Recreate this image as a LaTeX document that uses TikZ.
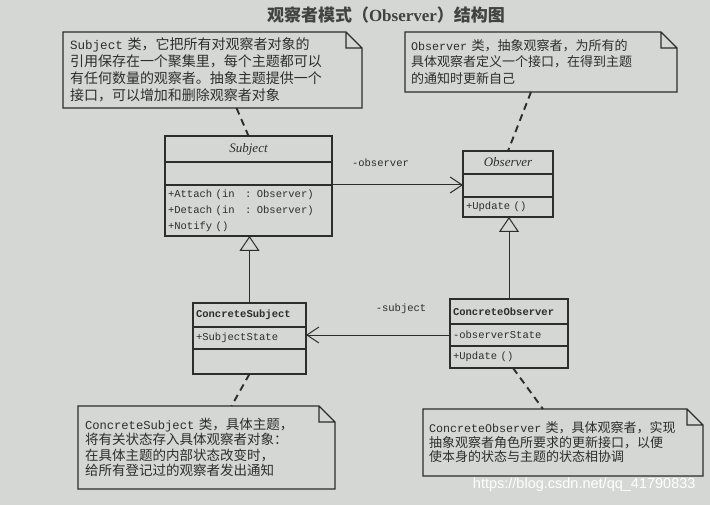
\documentclass[tikz,border=0pt]{standalone}
\usepackage{fontspec}
\setmainfont{Liberation Serif}
\setmonofont[Scale=0.9]{Liberation Mono}
\newfontfamily\cjk{Noto Sans CJK SC}
\newfontfamily\urlfont{Liberation Sans}
\usetikzlibrary{arrows.meta, positioning}
\definecolor{paperGray}{RGB}{212,215,211}
\definecolor{inkGray}{RGB}{45,45,45}

\begin{document}
\begin{tikzpicture}[x=1pt, y=-1pt,
  cpart/.style={rectangle, draw=inkGray, line width=1.1pt, outer sep=0pt,
                inner sep=0pt, minimum width=#1, text=inkGray,
                font=\ttfamily\fontsize{11.7}{16}\selectfont},
  cname/.style={font=\itshape\fontsize{13}{15}\selectfont},
  cbold/.style={font=\ttfamily\bfseries\fontsize{11.7}{15}\selectfont},
  note/.style={rectangle, outer sep=0pt, inner xsep=7pt, inner ysep=0pt,
               align=left, anchor=north west, text=inkGray},
  noteline/.style={draw=inkGray, line width=1.1pt},
  tether/.style={draw=inkGray, line width=1.9pt, dash pattern=on 7pt off 5pt},
  assoc/.style={draw=inkGray, line width=1pt, -{Straight Barb[length=12pt, width=16pt]}},
  inherit/.style={draw=inkGray, line width=1pt, -{Triangle[open, length=15pt, width=20pt]}},
  role/.style={font=\ttfamily\fontsize{11.7}{14}\selectfont, text=inkGray}
]
\useasboundingbox (0,0) rectangle (710,505);
\fill[paperGray] (0,0) rectangle (710,505);

\node[font=\cjk\bfseries\fontsize{17}{20}\selectfont, text=inkGray!90] (title) at (386,15)
  {观察者模式（{\rmfamily\bfseries Observer}）结构图};

% abstract classes
\node[cpart=167pt, minimum height=26pt, cname] (subjname) at (248.5,149) {Subject};
\node[cpart=167pt, minimum height=23pt, below=0pt of subjname] (subjattr) {};
\node[cpart=167pt, minimum height=51pt, below=0pt of subjattr, text width=161pt,
      inner xsep=3pt, align=left] (subjops)
  {+Attach (in~~~: Observer)\\+Detach (in~~~: Observer)\\+Notify ()};

\node[cpart=90pt, minimum height=23pt, cname] (obsname) at (508,162.5) {Observer};
\node[cpart=90pt, minimum height=23pt, below=0pt of obsname] (obsattr) {};
\node[cpart=90pt, minimum height=20pt, below=0pt of obsattr, text width=84pt,
      inner xsep=3pt, align=left] (obsops) {+Update ()};

% concrete classes
\node[cpart=113pt, minimum height=24pt, cbold, text width=107pt, inner xsep=3pt,
      align=left] (csname) at (249.5,315) {ConcreteSubject};
\node[cpart=113pt, minimum height=22pt, below=0pt of csname, text width=107pt,
      inner xsep=3pt, align=left] (csattr) {+SubjectState};
\node[cpart=113pt, minimum height=25pt, below=0pt of csattr] (csops) {};

\node[cpart=118pt, minimum height=25pt, cbold, text width=112pt, inner xsep=3pt,
      align=left] (coname) at (509,311.5) {ConcreteObserver};
\node[cpart=118pt, minimum height=22pt, below=0pt of coname, text width=112pt,
      inner xsep=3pt, align=left] (coattr) {-observerState};
\node[cpart=118pt, minimum height=22pt, below=0pt of coattr, text width=112pt,
      inner xsep=3pt, align=left] (coops) {+Update ()};

% relations
\draw[inherit] (csname.north) -- (csname.north |- subjops.south);
\draw[inherit] (coname.north) -- (coname.north |- obsops.south);
\draw[assoc] (subjattr.south east) -- (obsattr.west |- subjattr.south east)
  node[role, pos=0.37, above=15pt] {-observer};
\draw[assoc] (coattr.west) -- (csattr.east |- coattr.west)
  node[role, pos=0.34, above=17pt] {-subject};

% notes
\node[note, minimum width=299pt, minimum height=76pt, text width=285pt,
      font=\cjk\fontsize{14}{17}\selectfont] (subjnote) at (63,32)
  {\texttt{Subject} 类，它把所有对观察者对象的\\引用保存在一个聚集里，每个主题都可以\\
   有任何数量的观察者。抽象主题提供一个\\接口，可以增加和删除观察者对象};
\node[note, minimum width=272pt, minimum height=60pt, text width=260pt, inner xsep=6pt,
      font=\cjk\fontsize{13}{16.5}\selectfont] (obsnote) at (405,32)
  {\texttt{Observer} 类，抽象观察者，为所有的\\具体观察者定义一个接口，在得到主题\\
   的通知时更新自己};
\node[note, minimum width=257pt, minimum height=83pt, text width=243pt,
      font=\cjk\fontsize{13.5}{15.5}\selectfont] (csnote) at (78,406)
  {\texttt{ConcreteSubject} 类，具体主题，\\将有关状态存入具体观察者对象：\\
   在具体主题的内部状态改变时，\\给所有登记过的观察者发出通知};
\node[note, minimum width=280pt, minimum height=67pt, text width=268pt, inner xsep=6pt,
      font=\cjk\fontsize{13}{14.5}\selectfont] (conote) at (423,409)
  {\texttt{ConcreteObserver} 类，具体观察者，实现\\抽象观察者角色所要求的更新接口，以便\\
   使本身的状态与主题的状态相协调};

\foreach \n in {subjnote, obsnote, csnote, conote}
  \draw[noteline] (\n.north west) -- ([xshift=-16pt]\n.north east)
    -- ([yshift=-16pt]\n.north east) -- (\n.south east) -- (\n.south west) -- cycle
    ([xshift=-16pt]\n.north east) |- ([yshift=-16pt]\n.north east);

\draw[tether] ([xshift=24pt]subjnote.south) -- (subjname.north);
\draw[tether] ([xshift=-10pt]obsnote.south) -- (obsname.north);
\draw[tether] (csops.south) -- ([xshift=25pt]csnote.north);
\draw[tether] ([xshift=4pt]coops.south) -- ([xshift=-20pt]conote.north);

\node[font=\urlfont\fontsize{14.5}{16}\selectfont, text=white, anchor=east] (wmark)
  at (699,485) {https://blog.csdn.net/qq\_41790833};
\end{tikzpicture}
\end{document}
